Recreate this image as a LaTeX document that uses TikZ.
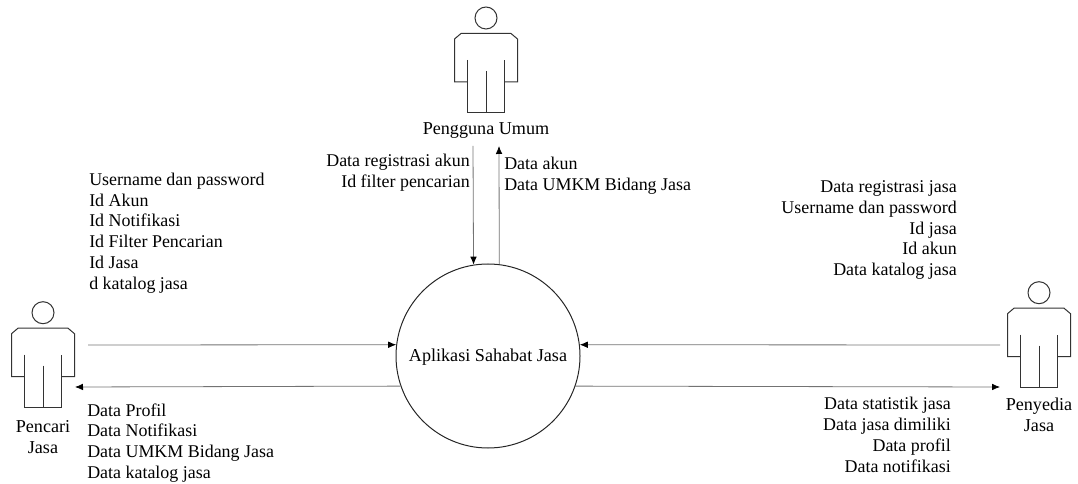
\documentclass[tikz,border=0pt]{standalone}
\usepackage{fontspec}
\setmainfont{Liberation Serif}
\usetikzlibrary{arrows.meta}
\tikzset{
  actorline/.style={draw=black!80,line width=0.75pt},
  flow/.style={-{Latex[black,length=6pt,width=5pt]},draw=black!55,line width=0.6pt},
  label/.style={font=\fontsize{13.6}{15.6}\selectfont,inner sep=0pt},
  datalist/.style={font=\fontsize{13.45}{15.6}\selectfont,inner sep=0pt},
}
\newcommand{\actorfig}[2]{%
  \begin{scope}[shift={(#2)}]
    \node[circle,actorline,minimum size=16.5pt,inner sep=0pt] (#1) at (0,0) {};
    \draw[actorline] (-18.5,64) -- (-31.5,64) -- (-31.5,21) -- (-25,15.5) -- (25,15.5) -- (31.5,21) -- (31.5,64) -- (18.5,64);
    \draw[actorline] (-18.5,42) -- (-18.5,95) -- (18.5,95) -- (18.5,42);
    \draw[actorline] (0,53) -- (0,95);
  \end{scope}
}

\begin{document}
\begin{tikzpicture}[x=0.75pt,y=-0.75pt]
  \useasboundingbox (0,0) rectangle (1078,484);

  \actorfig{umum}{486,18}
  \actorfig{pencari}{43,312.7}
  \actorfig{penyedia}{1039,292.7}

  \node[circle,draw=black!85,line width=0.75pt,minimum size=138pt,inner sep=0pt] (app) at (488,356) {};
  \node[label] (applabel) at (488,357) {Aplikasi Sahabat Jasa};

  \node[label] (umumlabel) at (486,131) {Pengguna Umum};
  \node[label,align=center] (pencarilabel) at (43,437) {Pencari\\Jasa};
  \node[label,align=center] (penyedialabel) at (1039,415) {Penyedia\\Jasa};

  \node[datalist,anchor=west,align=left] (pencariin) at (89,233) {Username dan password\\Id Akun\\Id Notifikasi\\Id Filter Pencarian\\Id Jasa\\d katalog jasa};
  \node[datalist,anchor=west,align=left] (pencariout) at (87,443) {Data Profil\\Data Notifikasi\\Data UMKM Bidang Jasa\\Data katalog jasa};
  \node[datalist,anchor=east,align=right] (umumin) at (470,173) {Data registrasi akun\\Id filter pencarian};
  \node[datalist,anchor=west,align=left] (umumout) at (504,176) {Data akun\\Data UMKM Bidang Jasa};
  \node[datalist,anchor=east,align=right] (penyediain) at (957,230) {Data registrasi jasa\\Username dan password\\Id jasa\\Id akun\\Data katalog jasa};
  \node[datalist,anchor=east,align=right] (penyediaout) at (951,435) {Data statistik jasa\\Data jasa dimiliki\\Data profil\\Data notifikasi};

  \coordinate (umumA) at (473,146);
  \coordinate (umumB) at (499,146);
  \coordinate (pencariA) at (88,345);
  \coordinate (pencariB) at (75,387);
  \coordinate (penyediaA) at (1000,345);
  \coordinate (penyediaB) at (1000,387);

  \draw[flow] (umumA) -- (app.99.4);
  \draw[flow] (app.83) -- (umumB);
  \draw[flow] (pencariA) -- (app.173);
  \draw[flow] (app.199.7) -- (pencariB);
  \draw[flow] (penyediaA) -- (app.7);
  \draw[flow] (app.-19.7) -- (penyediaB);
\end{tikzpicture}
\end{document}
